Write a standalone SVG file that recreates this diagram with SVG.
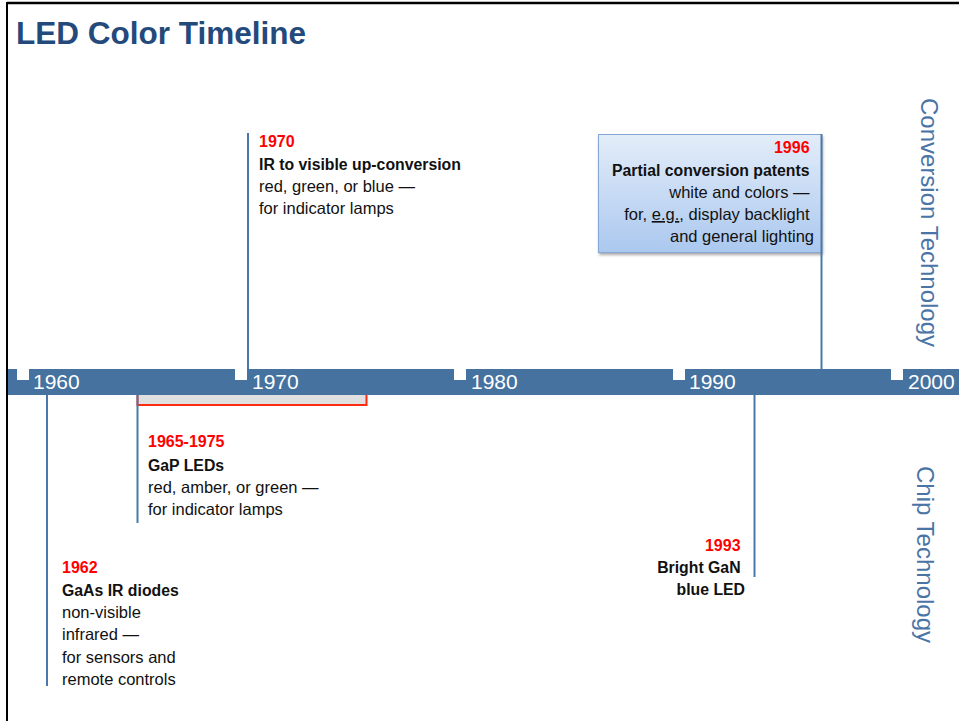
<svg xmlns="http://www.w3.org/2000/svg" width="959" height="721" viewBox="0 0 959 721">
  <defs>
    <linearGradient id="boxGrad" x1="0" y1="0" x2="0" y2="1">
      <stop offset="0" stop-color="#e3edf9"/>
      <stop offset="1" stop-color="#abc8ef"/>
    </linearGradient>
    <filter id="shadow" x="-10%" y="-10%" width="120%" height="130%">
      <feGaussianBlur in="SourceAlpha" stdDeviation="1.5"/>
      <feOffset dx="1" dy="2" result="b"/>
      <feComponentTransfer><feFuncA type="linear" slope="0.35"/></feComponentTransfer>
      <feMerge><feMergeNode/><feMergeNode in="SourceGraphic"/></feMerge>
    </filter>
  </defs>
  <style>
    text { font-family: "Liberation Sans", Arial, sans-serif; }
    .title { font-size: 31.5px; font-weight: bold; fill: #24497b; }
    .year { font-size: 16px; font-weight: bold; fill: #ff0000; }
    .head { font-size: 15.8px; font-weight: bold; fill: #111111; }
    .body { font-size: 16.5px; fill: #111111; }
    .decade { font-size: 21px; fill: #ffffff; }
    .side { font-size: 24px; fill: #4a74a6; }
    .conn { stroke: #4a78ab; stroke-width: 2; fill: none; }
    .notch { fill: #ffffff; }
  </style>

  <rect x="0" y="0" width="959" height="721" fill="#ffffff"/>
  <g id="frame">
    <line x1="7" y1="3" x2="959" y2="3" stroke="#000000" stroke-width="2.5"/>
    <line x1="7" y1="2" x2="7" y2="721" stroke="#000000" stroke-width="2"/>
  </g>

  <g id="title">
    <text class="title" x="16" y="44">LED Color Timeline</text>
  </g>

  <g id="range-1965-1975">
    <rect x="137.5" y="390" width="229" height="15" fill="#e0e0e0" stroke="#ff2a10" stroke-width="2"/>
  </g>

  <g id="timeline">
    <rect x="8" y="369" width="951" height="26" fill="#45729f"/>
    <rect class="notch" x="17" y="369" width="12" height="11"/>
    <rect class="notch" x="235" y="369" width="12" height="11"/>
    <rect class="notch" x="454" y="369" width="12" height="11"/>
    <rect class="notch" x="673" y="369" width="12" height="11"/>
    <rect class="notch" x="891" y="369" width="12" height="11"/>
    <text class="decade" x="33" y="389">1960</text>
    <text class="decade" x="252" y="389">1970</text>
    <text class="decade" x="471" y="389">1980</text>
    <text class="decade" x="689" y="389">1990</text>
    <text class="decade" x="908" y="389">2000</text>
  </g>

  <g id="node-1996">
    <rect x="598.5" y="134.5" width="223" height="118" fill="url(#boxGrad)" stroke="#86a6d6" stroke-width="1" filter="url(#shadow)"/>
    <text text-anchor="end">
      <tspan class="year" x="814" y="153">1996</tspan>
      <tspan class="head" x="814" y="176">Partial conversion patents</tspan>
      <tspan class="body" x="814" y="198">white and colors —</tspan>
      <tspan class="body" x="814" y="220">for, <tspan text-decoration="underline">e.g.</tspan>, display backlight</tspan>
      <tspan class="body" x="814" y="242">and general lighting</tspan>
    </text>
  </g>

  <g id="node-1970">
    <text>
      <tspan class="year" x="259" y="147">1970</tspan>
      <tspan class="head" x="259" y="170">IR to visible up-conversion</tspan>
      <tspan class="body" x="259" y="192">red, green, or blue —</tspan>
      <tspan class="body" x="259" y="214">for indicator lamps</tspan>
    </text>
  </g>

  <g id="node-1965-1975">
    <text>
      <tspan class="year" x="148" y="447">1965-1975</tspan>
      <tspan class="head" x="148" y="471">GaP LEDs</tspan>
      <tspan class="body" x="148" y="493">red, amber, or green —</tspan>
      <tspan class="body" x="148" y="515">for indicator lamps</tspan>
    </text>
  </g>

  <g id="node-1962">
    <text>
      <tspan class="year" x="62" y="573">1962</tspan>
      <tspan class="head" x="62" y="596">GaAs IR diodes</tspan>
      <tspan class="body" x="62" y="618">non-visible</tspan>
      <tspan class="body" x="62" y="640">infrared —</tspan>
      <tspan class="body" x="62" y="663">for sensors and</tspan>
      <tspan class="body" x="62" y="685">remote controls</tspan>
    </text>
  </g>

  <g id="node-1993">
    <text text-anchor="end">
      <tspan class="year" x="745" y="551">1993</tspan>
      <tspan class="head" x="745" y="573">Bright GaN</tspan>
      <tspan class="head" x="745" y="595">blue LED</tspan>
    </text>
  </g>

  <g id="label-conversion">
    <text class="side" transform="translate(921,98) rotate(90)">Conversion Technology</text>
  </g>
  <g id="label-chip">
    <text class="side" transform="translate(917,466) rotate(90)">Chip Technology</text>
  </g>

  <g id="connectors">
    <line class="conn" x1="248" y1="133" x2="248" y2="369"/>
    <line class="conn" x1="821.5" y1="134" x2="821.5" y2="369"/>
    <line class="conn" x1="47" y1="395" x2="47" y2="686"/>
    <line class="conn" x1="137.5" y1="395" x2="137.5" y2="523"/>
    <line class="conn" x1="754.5" y1="395" x2="754.5" y2="577"/>
  </g>
</svg>
